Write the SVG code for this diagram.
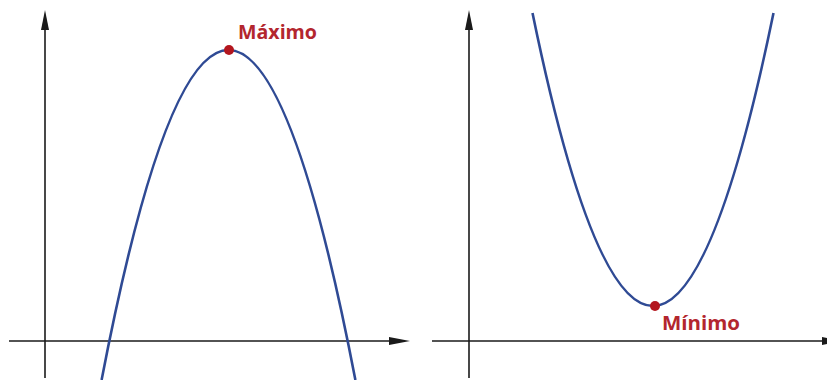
<svg xmlns="http://www.w3.org/2000/svg" width="827" height="380" viewBox="0 0 827 380">
<style>
.axis{stroke:#1a1a1a;stroke-width:1.6;fill:none}
.head{fill:#1a1a1a}
.curve{stroke:#2f4a94;stroke-width:2.6;fill:none}
.dot{fill:#b3161e}
.lbl{font-family:"Open Sans","Liberation Sans",sans-serif;font-weight:bold;font-size:19px;fill:#b3262e}
</style>
<rect width="827" height="380" fill="#ffffff"/>
<g id="left-chart">
  <g id="left-axes">
    <line class="axis" x1="45" y1="378" x2="45" y2="28"/>
    <polygon class="head" points="45,10 41,30 49,30"/>
    <line class="axis" x1="9" y1="341" x2="392" y2="341"/>
    <polygon class="head" points="410,341 389,337 389,345"/>
  </g>
  <path id="left-parabola" class="curve" d="M101.6,380 Q228.5,-280 355.4,380"/>
  <g id="maximo">
    <circle class="dot" cx="229" cy="50" r="5"/>
    <text class="lbl" x="238" y="39" textLength="79" lengthAdjust="spacingAndGlyphs">Máximo</text>
  </g>
</g>
<g id="right-chart">
  <g id="right-axes">
    <line class="axis" x1="469" y1="378" x2="469" y2="28"/>
    <polygon class="head" points="469,10 465,30 473,30"/>
    <line class="axis" x1="432" y1="341" x2="826" y2="341"/>
    <polygon class="head" points="843,341 822,337 822,345"/>
  </g>
  <path id="right-parabola" class="curve" d="M532.5,13 Q653,599 773.5,13"/>
  <g id="minimo">
    <circle class="dot" cx="655" cy="306" r="5"/>
    <text class="lbl" x="662" y="330" textLength="78" lengthAdjust="spacingAndGlyphs">Mínimo</text>
  </g>
</g>
</svg>
